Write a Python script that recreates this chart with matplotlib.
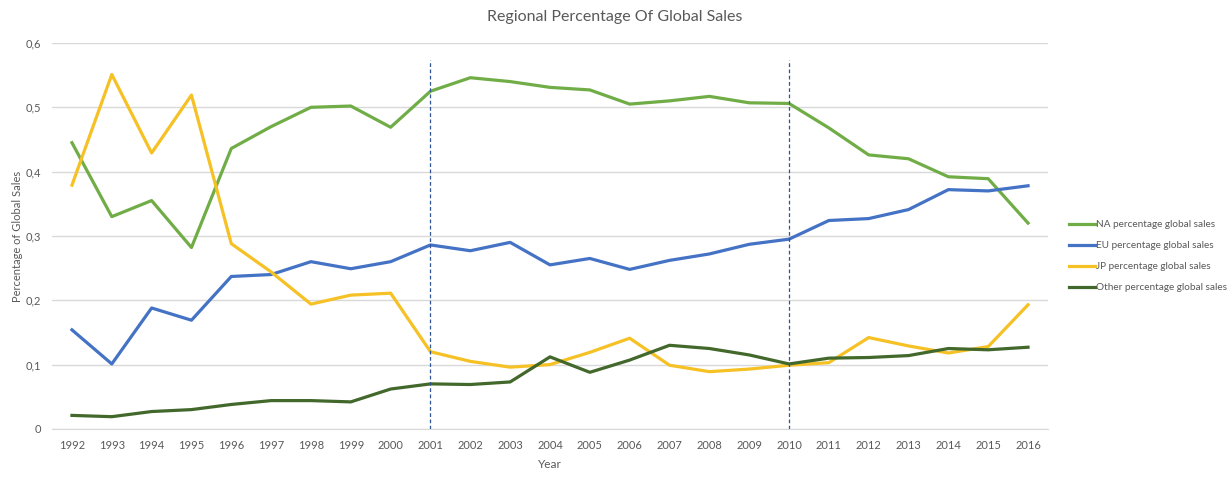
import matplotlib
matplotlib.use("Agg")
import matplotlib.pyplot as plt
from matplotlib.ticker import FixedLocator, FuncFormatter

years = list(range(1992, 2017))
na = [0.445, 0.330, 0.355, 0.282, 0.436, 0.470, 0.500, 0.502, 0.469, 0.525,
      0.546, 0.540, 0.531, 0.527, 0.505, 0.510, 0.517, 0.507, 0.506, 0.468,
      0.426, 0.420, 0.392, 0.389, 0.320]
eu = [0.154, 0.101, 0.188, 0.169, 0.237, 0.240, 0.260, 0.249, 0.260, 0.286,
      0.277, 0.290, 0.255, 0.265, 0.248, 0.262, 0.272, 0.287, 0.295, 0.324,
      0.327, 0.341, 0.372, 0.370, 0.378]
jp = [0.379, 0.551, 0.429, 0.519, 0.288, 0.244, 0.194, 0.208, 0.211, 0.120,
      0.105, 0.096, 0.100, 0.119, 0.141, 0.099, 0.089, 0.093, 0.099, 0.103,
      0.142, 0.129, 0.118, 0.128, 0.193]
other = [0.021, 0.019, 0.027, 0.030, 0.038, 0.044, 0.044, 0.042, 0.062, 0.070,
         0.069, 0.073, 0.112, 0.088, 0.107, 0.130, 0.125, 0.115, 0.101, 0.110,
         0.111, 0.114, 0.125, 0.123, 0.127]
series_labels = ["NA percentage global sales", "EU percentage global sales",
                 "JP percentage global sales", "Other percentage global sales"]
marker_years = [2001, 2010]
y_ticks = [0, 0.1, 0.2, 0.3, 0.4, 0.5, 0.6]

plt.rcParams['font.family'] = ['Lato', 'DejaVu Sans']
txt = '#595959'

fig = plt.figure(figsize=(12.3, 4.83), dpi=100)
ax = fig.add_axes([0.0423, 0.112, 0.8097, 0.799])

colors = ['#70AD47', '#4472C4', '#F5C125', '#43682B']
for vals, lab, c in zip([na, eu, jp, other], series_labels, colors):
    ax.plot(years, vals, color=c, lw=2.3, label=lab, solid_joinstyle='round')

ax.vlines(marker_years, 0, 0.574, colors='#2F5597', linestyles=(0, (3, 2)), lw=0.9)

ax.set_xlim(1991.5, 2016.5)
ax.set_ylim(0, 0.6)
ax.set_xticks(years)
ax.set_xticklabels([str(y) for y in years])
ax.yaxis.set_major_locator(FixedLocator(y_ticks))
ax.yaxis.set_major_formatter(FuncFormatter(lambda v, p: '0' if v == 0 else f'{v:.1f}'.replace('.', ',')))
ax.grid(axis='y', color='#D9D9D9', lw=1)
ax.set_axisbelow(True)
for s in ['top', 'right', 'left']:
    ax.spines[s].set_visible(False)
ax.spines['bottom'].set_color('#D9D9D9')
ax.tick_params(axis='both', length=0, labelsize=8, colors=txt)
ax.tick_params(axis='x', pad=8)
ax.tick_params(axis='y', pad=8)

ax.set_xlabel('Year', fontsize=8.5, color=txt, labelpad=6)
ax.set_ylabel('Percentage of Global Sales', fontsize=8, color=txt, labelpad=2)
fig.text(0.5, 0.965, 'Regional Percentage Of Global Sales', ha='center', va='center',
         fontsize=11.5, color=txt)

leg = fig.legend(loc='center left', bbox_to_anchor=(0.862, 0.469), frameon=False,
                 fontsize=7.2, handlelength=2.6, handletextpad=0.1, labelspacing=1.2,
                 labelcolor=txt)

fig.savefig('out.png', dpi=100, facecolor='white')
